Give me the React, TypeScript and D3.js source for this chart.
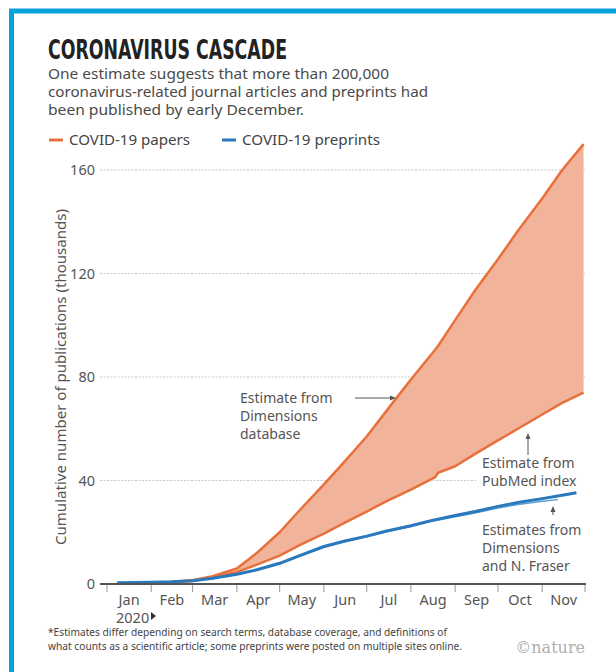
import React from "react";
import * as d3 from "d3";

const monthLabels = ["Jan", "Feb", "Mar", "Apr", "May", "Jun", "Jul", "Aug", "Sep", "Oct", "Nov"];
const yTicks = [0, 40, 80, 120, 160];

const paperDates = [
  "2020-01-08", "2020-02-01", "2020-02-15", "2020-03-01", "2020-03-15", "2020-04-01",
  "2020-04-15", "2020-05-01", "2020-05-15", "2020-06-01", "2020-06-15", "2020-07-01",
  "2020-07-15", "2020-08-01", "2020-08-18", "2020-08-20", "2020-09-01", "2020-09-15",
  "2020-10-01", "2020-10-15", "2020-11-01", "2020-11-15", "2020-11-30",
];
const dimensionsPapers = [0.1, 0.5, 0.8, 1.5, 3, 6, 12, 20, 28.5, 38.5, 47, 57, 67, 79, 90.5, 92, 102, 113.5, 125.5, 136.5, 149, 160, 170];
const pubmedPapers = [0.1, 0.3, 0.6, 1.2, 2.5, 4.6, 7.5, 11, 15, 19.5, 23.5, 28, 32, 36.5, 41.3, 43, 45.5, 50.3, 55.5, 60, 65.5, 70, 74];

const preprintDates = [
  "2020-01-08", "2020-02-01", "2020-02-15", "2020-03-01", "2020-03-15", "2020-04-01",
  "2020-04-15", "2020-05-01", "2020-05-15", "2020-06-01", "2020-06-15", "2020-07-01",
  "2020-07-15", "2020-08-01", "2020-08-15", "2020-09-01", "2020-09-15", "2020-10-01",
  "2020-10-15", "2020-11-01", "2020-11-15", "2020-11-25",
];
const dimensionsPreprints = [0.5, 0.7, 0.9, 1.3, 2.2, 3.8, 5.5, 8, 11, 14.5, 16.5, 18.5, 20.5, 22.5, 24.5, 26.5, 28, 30, 31.5, 33, 34.3, 35.3];
const fraserDates = [
  "2020-01-08", "2020-02-01", "2020-02-15", "2020-03-01", "2020-03-15", "2020-04-01",
  "2020-04-15", "2020-05-01", "2020-05-15", "2020-06-01", "2020-06-15", "2020-07-01",
  "2020-07-15", "2020-08-01", "2020-08-15", "2020-09-01", "2020-09-15", "2020-10-01",
  "2020-10-15", "2020-11-01", "2020-11-12",
];
const fraserPreprints = [0.4, 0.6, 0.8, 1.2, 2.0, 3.6, 5.3, 7.7, 10.7, 14.2, 16.2, 18.2, 20.2, 22.2, 24.1, 26, 27.4, 29.3, 30.7, 32.0, 32.6];

const parse = d3.timeParse("%Y-%m-%d");

export default function App() {
  const W = 616, H = 672;
  const x = d3.scaleTime().domain([new Date(2020, 0, 1), new Date(2020, 11, 1)]).range([107, 585]);
  const y = d3.scaleLinear().domain([0, 160]).range([584, 170]);

  const papers = paperDates.map((d, i) => ({ t: parse(d)!, hi: dimensionsPapers[i], lo: pubmedPapers[i] }));
  const pre = preprintDates.map((d, i) => ({ t: parse(d)!, v: dimensionsPreprints[i] }));
  const fr = fraserDates.map((d, i) => ({ t: parse(d)!, v: fraserPreprints[i] }));

  const area = d3.area<any>().x((d) => x(d.t)).y0((d) => y(d.lo)).y1((d) => y(d.hi));
  const lineHi = d3.line<any>().x((d) => x(d.t)).y((d) => y(d.hi));
  const lineLo = d3.line<any>().x((d) => x(d.t)).y((d) => y(d.lo));
  const lineV = d3.line<any>().x((d) => x(d.t)).y((d) => y(d.v));

  const monthTicks = d3.timeMonth.range(new Date(2020, 0, 1), new Date(2020, 11, 2));

  const orange = "#e8703a";
  const fill = "#f1b49a";
  const blue = "#2b79bd";
  const grey = "#555";
  const sans = "'Noto Sans', 'Open Sans', sans-serif";

  return (
    <svg width={W} height={H} style={{ position: "absolute", left: 0, top: 0, background: "#fff" }} fontFamily={sans}>
      {/* frame */}
      <rect x={11.5} y={11} width={W + 20} height={H + 20} fill="none" stroke="#0aa2dc" strokeWidth={5} />

      {/* title */}
      <text x={48} y={59} fontFamily="'Liberation Sans Narrow', 'DejaVu Sans Condensed', sans-serif" fontWeight="bold" fontSize={26} fill="#222" textLength={239} lengthAdjust="spacingAndGlyphs">CORONAVIRUS CASCADE</text>
      <g fontSize={14.5} fill="#4a4a4a">
        <text x={48} y={79} textLength={341} lengthAdjust="spacingAndGlyphs">One estimate suggests that more than 200,000</text>
        <text x={48} y={97} textLength={380} lengthAdjust="spacingAndGlyphs">coronavirus-related journal articles and preprints had</text>
        <text x={48} y={115} textLength={256} lengthAdjust="spacingAndGlyphs">been published by early December.</text>
      </g>

      {/* legend */}
      <line x1={49} x2={63} y1={140} y2={140} stroke={orange} strokeWidth={3} />
      <text x={69} y={145} fontSize={14} fill="#444" textLength={121} lengthAdjust="spacingAndGlyphs">COVID-19 papers</text>
      <line x1={222} x2={236} y1={140} y2={140} stroke={blue} strokeWidth={3} />
      <text x={242} y={145} fontSize={14} fill="#444" textLength={138} lengthAdjust="spacingAndGlyphs">COVID-19 preprints</text>

      {/* gridlines */}
      {yTicks.filter((t) => t > 0).map((t) => (
        <line key={t} x1={100} x2={t === 40 ? 476 : 585} y1={y(t)} y2={y(t)} stroke="#c8c8c8" strokeWidth={1} strokeDasharray="2,1.5" />
      ))}
      {/* y tick labels */}
      {yTicks.map((t) => (
        <text key={t} x={95} y={y(t) + 5} textAnchor="end" fontSize={14.5} fill={grey}>{t}</text>
      ))}
      <text transform={`translate(66,377) rotate(-90)`} textAnchor="middle" fontSize={14} fill={grey} textLength={336} lengthAdjust="spacingAndGlyphs">Cumulative number of publications (thousands)</text>

      {/* area and lines */}
      <path d={area(papers)!} fill={fill} />
      <path d={lineHi(papers)!} fill="none" stroke={orange} strokeWidth={2.5} strokeLinejoin="round" />
      <path d={lineLo(papers)!} fill="none" stroke={orange} strokeWidth={2.5} strokeLinejoin="round" />
      <path d={lineV(fr)!} fill="none" stroke="#5a9fd8" strokeWidth={1.4} />
      <path d={lineV(pre)!} fill="none" stroke={blue} strokeWidth={3} strokeLinejoin="round" />

      {/* x axis */}
      <line x1={100} x2={586} y1={584} y2={584} stroke={grey} strokeWidth={2} />
      {monthTicks.map((m, i) => (
        <line key={i} x1={x(m)} x2={x(m)} y1={585} y2={592} stroke="#999" strokeWidth={1} />
      ))}
      {monthLabels.map((lab, i) => (
        <text key={lab} x={(x(monthTicks[i]) + x(monthTicks[i + 1])) / 2} y={605} textAnchor="middle" fontSize={14.5} fill={grey}>{lab}</text>
      ))}
      <text x={116} y={623} fontSize={14.5} fill={grey}>2020</text>
      <path d="M151,612 L156,616 L151,620 Z" fill="#333" />

      {/* annotations */}
      <g fontSize={14} fill={grey}>
        <text x={240} y={403}>Estimate from</text>
        <text x={240} y={421}>Dimensions</text>
        <text x={240} y={439}>database</text>
        <text x={482} y={468}>Estimate from</text>
        <text x={482} y={486}>PubMed index</text>
        <text x={482} y={535}>Estimates from</text>
        <text x={482} y={553}>Dimensions</text>
        <text x={482} y={571}>and N. Fraser</text>
      </g>
      <line x1={355} x2={392} y1={398} y2={398} stroke={grey} strokeWidth={1} />
      <path d="M396,398 L390,395.5 L390,400.5 Z" fill={grey} />
      <line x1={528} x2={528} y1={455} y2={437} stroke={grey} strokeWidth={1} />
      <path d="M528,433 L525.5,439 L530.5,439 Z" fill={grey} />
      <line x1={553} x2={553} y1={515} y2={510} stroke={grey} strokeWidth={1} />
      <path d="M553,506 L550.5,512 L555.5,512 Z" fill={grey} />

      {/* footnote */}
      <g fontSize={10} fill="#444">
        <text x={48} y={636} textLength={399} lengthAdjust="spacingAndGlyphs">*Estimates differ depending on search terms, database coverage, and definitions of</text>
        <text x={48} y={650} textLength={414} lengthAdjust="spacingAndGlyphs">what counts as a scientific article; some preprints were posted on multiple sites online.</text>
      </g>
      <text x={585} y={653} textAnchor="end" fontSize={16} fill="#b0b0b0" fontFamily="'DejaVu Serif', serif">©nature</text>
    </svg>
  );
}
